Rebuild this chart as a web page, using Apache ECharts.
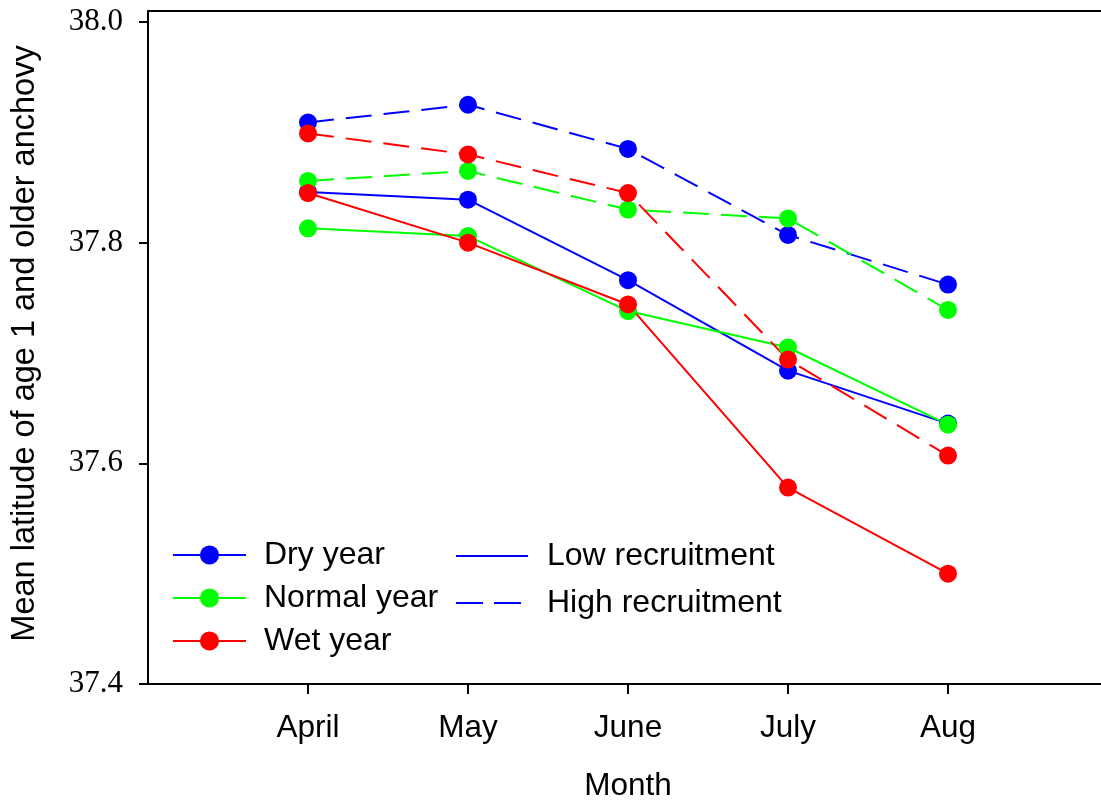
<!DOCTYPE html>
<html>
<head>
<meta charset="utf-8">
<script src="https://cdn.jsdelivr.net/npm/echarts@6/dist/echarts.min.js"></script>
<style>
  html, body { margin: 0; padding: 0; background: #fff; }
  #main { width: 1101px; height: 806px; }
</style>
</head>
<body>
<div id="main"></div>
<script>
var chartDom = document.getElementById('main');
var myChart = echarts.init(chartDom);

// months (padded with empty slots at both ends like the original axis)
const months = ['', 'April', 'May', 'June', 'July', 'Aug', ''];
const yTicks = [37.4, 37.6, 37.8, 38.0];

// mean latitude, low recruitment (solid) and high recruitment (dashed)
const dryLow = [37.846, 37.839, 37.766, 37.684, 37.636];
const dryHigh = [37.909, 37.925, 37.885, 37.807, 37.762];
const normalLow = [37.813, 37.806, 37.738, 37.705, 37.635];
const normalHigh = [37.856, 37.865, 37.830, 37.822, 37.739];
const wetLow = [37.845, 37.800, 37.744, 37.578, 37.500];
const wetHigh = [37.899, 37.880, 37.845, 37.694, 37.607];

const colors = { dry: '#0000ff', normal: '#00ff00', wet: '#ff0000' };
const sans = 'Liberation Sans';
const serif = 'Liberation Serif';
const dash = [26, 12];

const toPoints = (vals) => vals.map((v, i) => [months[i + 1], v]);

const mkSeries = (name, vals, color, dashed) => ({
  name: name,
  type: 'line',
  xAxisIndex: 0,
  yAxisIndex: 0,
  data: toPoints(vals),
  symbol: 'circle',
  symbolSize: 18,
  itemStyle: { color: color },
  lineStyle: { color: color, width: 2, type: dashed ? dash : 'solid' },
  emphasis: { disabled: true },
  animation: false
});

var option = {
  backgroundColor: '#fff',
  grid: [
    { left: 148, top: 22, bottom: 122, width: 960, outerBoundsMode: 'none', containLabel: false },
    { left: 148, top: 11, bottom: 122, width: 960, outerBoundsMode: 'none', containLabel: false }
  ],
  xAxis: [
    {
      type: 'category',
      gridIndex: 0,
      data: months,
      boundaryGap: false,
      axisLine: { lineStyle: { color: '#000', width: 2 } },
      axisTick: {
        length: 10,
        lineStyle: { color: '#000', width: 2 },
        interval: (idx) => idx > 0 && idx < months.length - 1
      },
      axisLabel: { interval: 0, color: '#000', fontSize: 31.5, fontFamily: sans, margin: 28 },
      name: 'Month',
      nameLocation: 'middle',
      nameGap: 86,
      nameTextStyle: { color: '#000', fontSize: 31.5, fontFamily: sans },
      splitLine: { show: false }
    },
    {
      type: 'value',
      gridIndex: 1,
      position: 'top',
      min: 0,
      max: 1,
      axisLine: { show: true, onZero: false, lineStyle: { color: '#000', width: 2 } },
      axisTick: { show: false },
      axisLabel: { show: false },
      splitLine: { show: false }
    }
  ],
  yAxis: [
    {
      type: 'value',
      gridIndex: 0,
      min: yTicks[0],
      max: yTicks[yTicks.length - 1],
      interval: 0.2,
      axisLine: { show: true, lineStyle: { color: '#000', width: 2 } },
      axisTick: { show: true, length: 9, lineStyle: { color: '#000', width: 2 } },
      axisLabel: {
        color: '#000', fontSize: 31, fontFamily: serif, margin: 25,
        formatter: (v) => v.toFixed(1)
      },
      splitLine: { show: false }
    },
    {
      type: 'value',
      gridIndex: 1,
      min: 0,
      max: 1,
      axisLine: { show: true, onZero: false, lineStyle: { color: '#000', width: 2 } },
      axisTick: { show: false },
      axisLabel: { show: false },
      splitLine: { show: false },
      name: 'Mean latitude of age 1 and older anchovy',
      nameLocation: 'middle',
      nameGap: 106,
      nameRotate: 90,
      nameTextStyle: { color: '#000', fontSize: 32.5, fontFamily: sans, padding: [0, 0, 0, 8] }
    }
  ],
  legend: [
    {
      data: ['Dry year', 'Normal year', 'Wet year'],
      orient: 'vertical',
      left: 167,
      top: 534,
      itemWidth: 73,
      itemHeight: 24,
      itemGap: 11,
      selectedMode: false,
      textStyle: { color: '#000', fontSize: 32, fontFamily: sans, lineHeight: 31, padding: [0, 0, 0, 13] }
    },
    {
      data: ['Low recruitment', 'High recruitment'],
      orient: 'vertical',
      left: 450,
      top: 535,
      itemWidth: 72,
      itemHeight: 24,
      itemGap: 15,
      selectedMode: false,
      itemStyle: { color: 'rgba(0,0,0,0)', borderWidth: 0 },
      textStyle: { color: '#000', fontSize: 32, fontFamily: sans, lineHeight: 31, padding: [0, 0, 0, 14] }
    }
  ],
  series: [
    mkSeries('Dry year', dryLow, colors.dry, false),
    mkSeries('Dry year', dryHigh, colors.dry, true),
    mkSeries('Normal year', normalLow, colors.normal, false),
    mkSeries('Normal year', normalHigh, colors.normal, true),
    mkSeries('Wet year', wetLow, colors.wet, false),
    mkSeries('Wet year', wetHigh, colors.wet, true),
    {
      name: 'Low recruitment', type: 'line', data: [], symbol: 'none',
      itemStyle: { color: colors.dry },
      lineStyle: { color: colors.dry, width: 2, type: 'solid' }
    },
    {
      name: 'High recruitment', type: 'line', data: [], symbol: 'none',
      itemStyle: { color: colors.dry },
      lineStyle: { color: colors.dry, width: 2, type: [27, 11] }
    }
  ]
};

option && myChart.setOption(option);

window.addEventListener('resize', function() {
  myChart.resize();
});
</script>
</body>
</html>
